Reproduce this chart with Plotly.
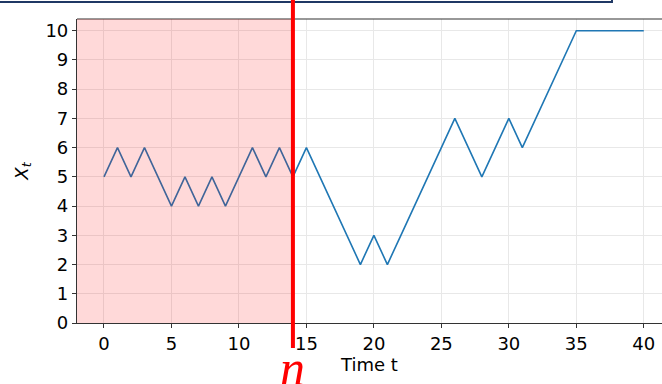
import plotly.graph_objects as go

t = list(range(41))
x_vals = [5, 6, 5, 6, 5, 4, 5, 4, 5, 4, 5, 6, 5, 6, 5, 6, 5, 4, 3, 2, 3,
          2, 3, 4, 5, 6, 7, 6, 5, 6, 7, 6, 7, 8, 9, 10, 10, 10, 10, 10, 10]
n_stop = 14
x_ticks = [0, 5, 10, 15, 20, 25, 30, 35, 40]
y_ticks = list(range(11))

fig = go.Figure()
fig.add_trace(go.Scatter(x=t, y=x_vals, mode="lines",
                         line=dict(color="#1f77b4", width=1.6),
                         showlegend=False, hoverinfo="skip"))

axis_common = dict(showgrid=True, gridcolor="#e8e8e8", gridwidth=1,
                   showline=True, linecolor="#333333", linewidth=1.2,
                   ticks="outside", ticklen=4, tickwidth=1.2, tickcolor="#333333",
                   zeroline=False, tickfont=dict(size=18, color="black"))

fig.update_layout(
    width=662, height=384,
    margin=dict(l=77, r=0, t=19, b=61),
    paper_bgcolor="white", plot_bgcolor="white",
    font=dict(family="DejaVu Sans", color="black"),
    xaxis=dict(range=[-2, 41.35], tickvals=x_ticks,
               title=dict(text="Time t", font=dict(size=18), standoff=0),
               **axis_common),
    yaxis=dict(range=[0, 10.4], tickvals=y_ticks,
               title=dict(text="<i>X</i><sub><i>t</i></sub>", font=dict(size=18), standoff=12),
               **axis_common),
    shapes=[
        # top spine
        dict(type="line", xref="paper", yref="paper", x0=0, x1=1, y0=1, y1=1,
             line=dict(color="#333333", width=1.2), layer="above"),
        # shaded region
        dict(type="rect", xref="x", yref="paper", x0=-2, x1=n_stop, y0=0, y1=1,
             fillcolor="red", opacity=0.15, line=dict(width=0), layer="above"),
        # top box outline
        dict(type="rect", xref="paper", yref="paper", x0=-0.2, x1=0.9145, y0=1.056, y1=1.2,
             fillcolor="white", line=dict(color="#1f3864", width=2), layer="above"),
        # red vertical line
        dict(type="line", xref="x", yref="paper", x0=n_stop, x1=n_stop, y0=-0.082, y1=1.1,
             line=dict(color="red", width=4), layer="above"),
    ],
    annotations=[
        dict(text="<i>n</i>", xref="x", yref="paper", x=n_stop, y=-0.148,
             showarrow=False, xanchor="center", yanchor="middle",
             font=dict(family="Liberation Serif", size=50, color="red")),
    ],
)

fig.write_html("out.html", config={"displayModeBar": False},
               post_script="document.body.style.margin='0';document.body.style.overflow='hidden';")
